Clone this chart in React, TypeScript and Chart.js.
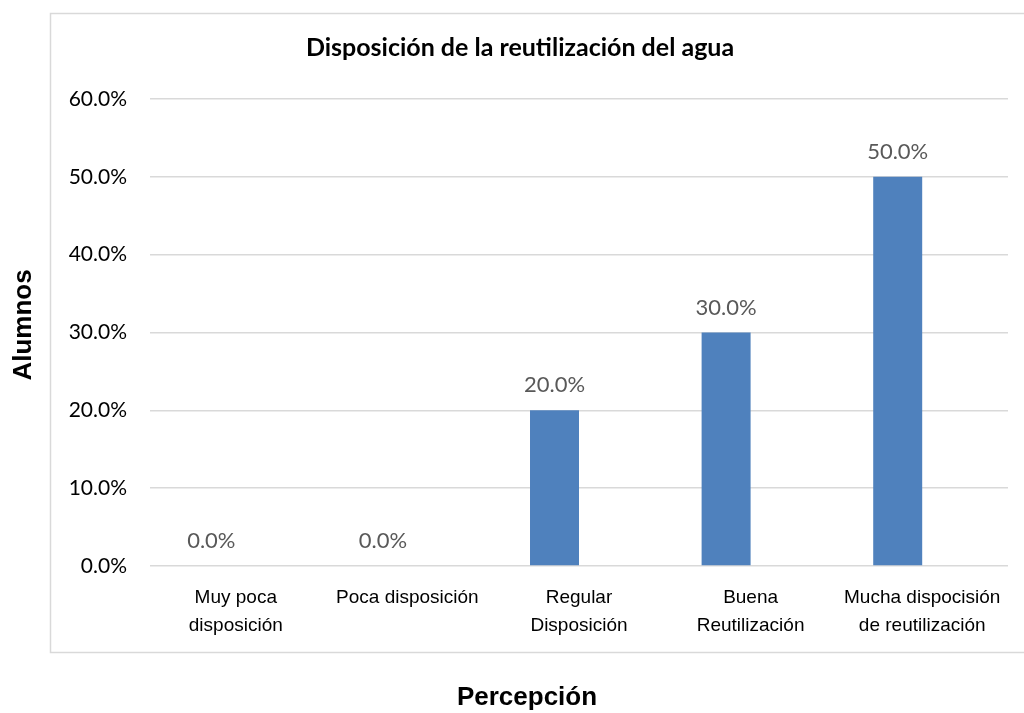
import React, { useEffect, useRef } from "react";
import { Chart, registerables } from "chart.js";

Chart.register(...registerables);

const categories: string[][] = [
  ["Muy poca", "disposición"],
  ["Poca disposición"],
  ["Regular", "Disposición"],
  ["Buena", "Reutilización"],
  ["Mucha dispocisión", "de reutilización"],
];
const values: number[] = [0, 0, 0.2, 0.3, 0.5];
const emptySeries: (number | null)[] = [null, null, null, null, null];
const chartTitle = "Disposición de la reutilización del agua";
const yTitle = "Alumnos";
const xTitle = "Percepción";

const fmt = (v: number) => (v * 100).toFixed(1) + "%";

const frame = {
  id: "frame",
  beforeDraw(chart: any) {
    const ctx = chart.ctx;
    ctx.save();
    ctx.fillStyle = "#ffffff";
    ctx.fillRect(0, 0, chart.width, chart.height);
    ctx.strokeStyle = "#d9d9d9";
    ctx.lineWidth = 1.5;
    ctx.strokeRect(50.5, 13.5, 990, 639);
    ctx.restore();
  },
  afterDraw(chart: any) {
    const ctx = chart.ctx;
    ctx.save();
    ctx.fillStyle = "#000000";
    ctx.textAlign = "center";
    ctx.textBaseline = "middle";
    ctx.font = "bold 25px Lato";
    ctx.fillText(chartTitle, 520, 48);
    ctx.font = "bold 26px 'Liberation Sans'";
    ctx.fillText(xTitle, 527, 698);
    ctx.translate(24, 325);
    ctx.rotate(-Math.PI / 2);
    ctx.fillText(yTitle, 0, 0);
    ctx.restore();
  },
};

const dataLabels = {
  id: "dataLabels",
  afterDatasetsDraw(chart: any) {
    const ctx = chart.ctx;
    const meta = chart.getDatasetMeta(0);
    const ds = chart.data.datasets[0].data as number[];
    ctx.save();
    ctx.fillStyle = "#595959";
    ctx.font = "22px Lato";
    ctx.textAlign = "center";
    ctx.textBaseline = "middle";
    meta.data.forEach((bar: any, i: number) => {
      ctx.fillText(fmt(ds[i]), bar.x, bar.y - 25);
    });
    ctx.restore();
  },
};

export default function App() {
  const ref = useRef<HTMLCanvasElement>(null);
  useEffect(() => {
    if (!ref.current) return;
    const chart = new Chart(ref.current, {
      type: "bar",
      data: {
        labels: categories,
        datasets: [
          { data: values, backgroundColor: "#4f81bd", categoryPercentage: 0.571, barPercentage: 1.0 },
          { data: emptySeries, backgroundColor: "#c0504d", categoryPercentage: 0.571, barPercentage: 1.0 },
        ],
      },
      options: {
        responsive: false,
        animation: false,
        layout: { padding: { left: 0, right: 16, top: 99, bottom: 0 } },
        plugins: {
          legend: { display: false },
          tooltip: { enabled: false },
          title: { display: false },
        },
        scales: {
          x: {
            grid: { display: false, drawTicks: false },
            border: { display: false },
            ticks: {
              color: "#000000",
              font: { family: "Liberation Sans", size: 19, lineHeight: 1.45 },
              padding: 18,
              maxRotation: 0,
              autoSkip: false,
            },
            afterFit: (s: any) => {
              s.height = 147;
            },
          },
          y: {
            min: 0,
            max: 0.6,
            grid: { color: "#d9d9d9", lineWidth: 1.5, drawTicks: false },
            border: { display: false },
            ticks: {
              stepSize: 0.1,
              color: "#000000",
              font: { family: "Lato", size: 21 },
              padding: 23,
              callback: (v: any) => fmt(Number(v)),
            },
            afterFit: (s: any) => {
              s.width = 150;
            },
          },
        },
      },
      plugins: [frame, dataLabels],
    });
    return () => chart.destroy();
  }, []);
  return (
    <div style={{ position: "fixed", left: 0, top: 0, width: 1024, height: 713, background: "#fff" }}>
      <canvas ref={ref} width={1024} height={713} style={{ display: "block" }} />
    </div>
  );
}
